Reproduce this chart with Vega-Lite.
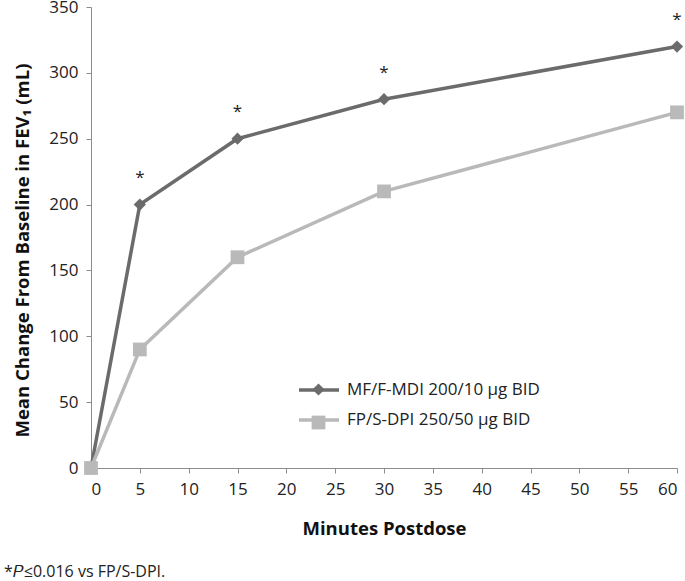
{
  "$schema": "https://vega.github.io/schema/vega-lite/v6.json",
  "width": 586,
  "height": 461,
  "autosize": "none",
  "padding": {"left": 91, "top": 7, "right": 8, "bottom": 113},
  "background": "white",
  "config": {
    "font": "Open Sans",
    "view": {"stroke": null},
    "axis": {"grid": false, "domainColor": "#8c8c8c", "tickColor": "#8c8c8c", "labelColor": "#222222", "labelFontSize": 17, "labelFont": "Open Sans", "titleFont": "Open Sans", "titleFontSize": 18.5, "titleFontWeight": "bold", "titleColor": "#111111"}
  },
  "title": {"text": "*𝑃≤0.016 vs FP/S-DPI.", "orient": "bottom", "anchor": "start", "frame": "group", "dx": -87, "offset": 26, "fontSize": 16, "fontWeight": "normal", "font": "Open Sans", "color": "#222222"},
  "datasets": {
    "main": [
      {"min": 0, "val": 0, "grp": "MF/F-MDI 200/10 µg BID"},
      {"min": 5, "val": 200, "grp": "MF/F-MDI 200/10 µg BID"},
      {"min": 15, "val": 250, "grp": "MF/F-MDI 200/10 µg BID"},
      {"min": 30, "val": 280, "grp": "MF/F-MDI 200/10 µg BID"},
      {"min": 60, "val": 320, "grp": "MF/F-MDI 200/10 µg BID"},
      {"min": 0, "val": 0, "grp": "FP/S-DPI 250/50 µg BID"},
      {"min": 5, "val": 90, "grp": "FP/S-DPI 250/50 µg BID"},
      {"min": 15, "val": 160, "grp": "FP/S-DPI 250/50 µg BID"},
      {"min": 30, "val": 210, "grp": "FP/S-DPI 250/50 µg BID"},
      {"min": 60, "val": 270, "grp": "FP/S-DPI 250/50 µg BID"}
    ],
    "stars": [
      {"min": 5, "val": 220, "t": "*"},
      {"min": 15, "val": 270, "t": "*"},
      {"min": 30, "val": 300, "t": "*"},
      {"min": 60, "val": 340, "t": "*"}
    ]
  },
  "encoding": {
    "x": {"field": "min", "type": "quantitative", "scale": {"domain": [0, 60], "nice": false, "zero": true}, "axis": {"values": [0,5,10,15,20,25,30,35,40,45,50,55,60], "title": "Minutes Postdose", "labelPadding": 8, "titlePadding": 22, "tickSize": 5}},
    "y": {"field": "val", "type": "quantitative", "scale": {"domain": [0, 350], "nice": false}, "axis": {"values": [0,50,100,150,200,250,300,350], "title": "Mean Change From Baseline in FEV₁ (mL)", "labelPadding": 8, "titlePadding": 16, "titleY": 243, "tickSize": 5}}
  },
  "layer": [
    {
      "data": {"name": "main"},
      "mark": {"type": "line", "strokeWidth": 3.5},
      "encoding": {
        "stroke": {"field": "grp", "type": "nominal", "sort": ["MF/F-MDI 200/10 µg BID", "FP/S-DPI 250/50 µg BID"], "scale": {"range": ["#6b6b6b", "#b9b9b9"]}, "legend": {"title": null, "orient": "none", "legendX": 206, "legendY": 361, "symbolType": "stroke", "symbolSize": 1600, "symbolStrokeWidth": 3.5, "labelFontSize": 17, "labelFont": "Open Sans", "labelColor": "#222222", "labelOffset": 6, "labelLimit": 400, "rowPadding": -8}},
        "order": {"field": "min"}
      }
    },
    {
      "data": {"name": "main"},
      "mark": {"type": "point", "filled": true, "opacity": 1},
      "encoding": {
        "fill": {"field": "grp", "type": "nominal", "scale": {"domain": ["MF/F-MDI 200/10 µg BID", "FP/S-DPI 250/50 µg BID"], "range": ["#6b6b6b", "#b9b9b9"]}, "legend": {"title": null, "orient": "none", "legendX": 219, "legendY": 374, "labelFontSize": 17, "labelOpacity": 0, "labelLimit": 400, "rowPadding": 15, "symbolStrokeWidth": 0, "symbolOpacity": 1}},
        "shape": {"field": "grp", "type": "nominal", "scale": {"domain": ["MF/F-MDI 200/10 µg BID", "FP/S-DPI 250/50 µg BID"], "range": ["diamond", "square"]}, "legend": {"title": null, "orient": "none", "legendX": 219, "legendY": 374, "labelFontSize": 17, "labelOpacity": 0, "labelLimit": 400, "rowPadding": 15, "symbolStrokeWidth": 0, "symbolOpacity": 1}},
        "size": {"field": "grp", "type": "nominal", "scale": {"domain": ["MF/F-MDI 200/10 µg BID", "FP/S-DPI 250/50 µg BID"], "range": [150, 190]}, "legend": {"title": null, "orient": "none", "legendX": 219, "legendY": 374, "labelFontSize": 17, "labelOpacity": 0, "labelLimit": 400, "rowPadding": 15, "symbolStrokeWidth": 0, "symbolOpacity": 1}}
      }
    },
    {
      "data": {"name": "stars"},
      "mark": {"type": "text", "fontSize": 17, "color": "#222222", "font": "Open Sans"},
      "encoding": {"text": {"field": "t"}}
    }
  ]
}
